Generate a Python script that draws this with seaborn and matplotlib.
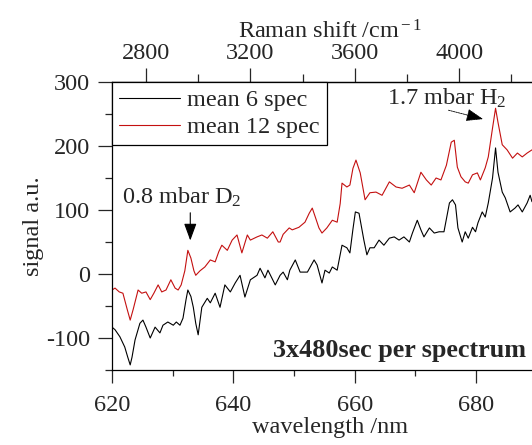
import matplotlib
matplotlib.use("Agg")
import matplotlib.pyplot as plt
import seaborn as sns
import numpy as np

# Spectra (wavelength in nm, signal in a.u.)
wl_red = [620.0, 620.5, 621.2, 621.8, 622.5, 623.0, 623.5, 624.3, 624.9, 625.6,
          626.3, 626.9, 627.6, 628.2, 628.9, 629.7, 630.4, 630.9, 631.4, 632.0,
          632.5, 633.0, 633.5, 633.8, 634.5, 635.3, 636.2, 637.0, 637.6, 638.1,
          639.0, 639.8, 640.6, 641.4, 642.3, 642.8, 643.9, 644.7, 645.6, 646.5,
          647.4, 647.7, 648.2, 649.2, 649.7, 650.8, 651.8, 652.5, 653.0, 653.5,
          654.1, 654.6, 655.4, 656.3, 657.1, 657.6, 657.9, 658.7, 659.2, 659.7,
          660.2, 660.9, 661.7, 662.5, 663.5, 664.5, 665.7, 666.8, 667.8, 669.0,
          669.8, 670.9, 671.8, 672.6, 673.4, 674.2, 675.1, 675.9, 676.4, 676.9,
          677.5, 678.2, 678.7, 679.4, 680.2, 680.7, 681.5, 682.0, 682.7, 683.2,
          683.6, 684.3, 685.1, 686.0, 686.8, 687.6, 688.4, 689.2, 690.5, 692.0]
sig_red = [-25, -22, -28, -30, -55, -72, -55, -25, -30, -28,
           -40, -30, -17, -28, -25, -9, -22, -25, -17, 5,
           37, 25, 5, -2, 5, 11, 22, 19, 35, 45,
           37, 53, 61, 33, 61, 53, 58, 61, 56, 66,
           50, 50, 62, 72, 69, 73, 81, 95, 103, 89,
           72, 64, 72, 84, 81, 110, 142, 136, 139, 165,
           178, 158, 116, 127, 128, 123, 144, 136, 134, 139,
           127, 159, 147, 139, 150, 147, 170, 206, 209, 167,
           152, 144, 142, 155, 158, 147, 166, 183, 228, 259,
           237, 202, 194, 181, 189, 183, 189, 194, 192, 195]

wl_black = [620.0, 620.5, 621.3, 622.1, 622.6, 623.0, 623.3, 623.8, 624.6, 625.1,
            625.6, 626.3, 627.1, 627.9, 628.4, 629.2, 630.1, 630.6, 631.2, 631.7,
            632.2, 632.5, 633.0, 633.4, 633.8, 634.2, 634.8, 635.7, 636.2, 637.0,
            637.8, 638.6, 639.5, 640.3, 641.1, 641.9, 642.8, 643.9, 644.4, 645.2,
            645.7, 646.9, 647.7, 648.2, 648.9, 649.3, 650.2, 651.0, 652.2, 653.3,
            653.8, 654.6, 655.1, 655.8, 656.3, 657.1, 657.9, 658.7, 659.2, 659.7,
            660.1, 660.7, 661.5, 662.0, 662.5, 663.2, 664.0, 664.8, 665.7, 666.5,
            667.3, 668.1, 669.0, 669.5, 670.3, 670.9, 671.4, 672.3, 673.1, 673.9,
            674.7, 675.6, 676.1, 676.6, 677.0, 677.7, 678.2, 678.7, 679.4, 679.9,
            680.3, 681.0, 681.5, 682.0, 682.7, 683.2, 683.6, 684.3, 684.8, 685.6,
            686.4, 686.9, 687.6, 688.4, 688.9, 689.2, 690.5, 692.0]
sig_black = [-83, -87, -98, -114, -130, -142, -130, -103, -77, -72,
             -83, -100, -83, -92, -80, -75, -80, -75, -80, -69,
             -40, -25, -35, -52, -77, -95, -52, -38, -45, -30,
             -52, -17, -28, -14, -2, -36, -9, -2, 9, -6,
             6, -17, -2, 3, -9, 6, 22, 3, 3, 22,
             14, -14, 6, 1.5, 11, 6, 45, 41, 33, 70,
             97, 95, 53, 30, 41, 41, 53, 45, 56, 58,
             53, 58, 50, 64, 84, 69, 58, 72, 64, 66,
             66, 111, 116, 108, 72, 50, 66, 56, 73, 66,
             80, 97, 89, 111, 150, 197, 159, 128, 119, 97,
             103, 108, 97, 111, 123, 113, 118, 120]

y_ticks = [-100, 0, 100, 200, 300]
x_ticks = [620, 640, 660, 680]
raman_ticks = [2800, 3200, 3600, 4000]

sns.set_style("ticks")
plt.rcParams['font.family'] = ['Liberation Serif', 'DejaVu Serif']
plt.rcParams['mathtext.fontset'] = 'custom'
plt.rcParams['mathtext.rm'] = 'Liberation Serif'
plt.rcParams['mathtext.it'] = 'Liberation Serif:italic'
plt.rcParams['axes.unicode_minus'] = False
plt.rcParams['font.size'] = 17.5
plt.rcParams['axes.linewidth'] = 0.9

fig = plt.figure(figsize=(5.32, 4.45), dpi=100)
ax = fig.add_axes([0.2105, 0.1685, 0.8214, 0.6472])

sns.lineplot(x=wl_black, y=sig_black, ax=ax, color='black', lw=0.8,
             estimator=None, label='mean 6 spec')
sns.lineplot(x=wl_red, y=sig_red, ax=ax, color='#c41010', lw=0.8,
             estimator=None, label='mean 12 spec')

ax.set_xlim(620, 692)
ax.set_ylim(-150, 300)
ax.set_xticks(x_ticks)
ax.set_xticks(np.arange(630, 692, 20), minor=True)
ax.set_yticks(y_ticks)
ax.set_yticks(np.arange(-150, 301, 100), minor=True)
ax.tick_params(axis='x', which='major', direction='out', length=9, width=0.9, pad=9)
ax.tick_params(axis='x', which='minor', direction='out', length=4, width=0.9)
ax.tick_params(axis='y', which='major', direction='out', length=10, width=0.9, pad=6)
ax.tick_params(axis='y', which='minor', direction='out', length=5, width=0.9)
ax.set_xlabel('wavelength /nm', labelpad=1)
ax.set_ylabel('signal a.u.', labelpad=1)
for s in ['top', 'bottom', 'left']:
    ax.spines[s].set_visible(True)
    ax.spines[s].set_color('black')


def to_raman(w):
    return 3600 + 23.25 * (np.asarray(w) - 660)


def to_wl(r):
    return 660 + (np.asarray(r) - 3600) / 23.25


sec = ax.secondary_xaxis('top', functions=(to_raman, to_wl))
sec.set_xticks(raman_ticks)
sec.set_xticks(np.arange(3000, 4400, 400), minor=True)
sec.tick_params(which='major', direction='out', length=10, width=0.9, pad=3)
sec.tick_params(which='minor', direction='out', length=6, width=0.9)
sec.set_xlabel('Raman shift /cm$^{\\rm -1}$', labelpad=3)

leg = ax.legend(loc='upper left', bbox_to_anchor=(0, 1), borderaxespad=0,
                frameon=True, fancybox=False, framealpha=1, edgecolor='black',
                handlelength=2.5, handletextpad=0.3, labelspacing=0.2,
                borderpad=0.3)
leg.get_frame().set_linewidth(0.9)

ax.text(621.6, 120, '0.8 mbar D$_{\\rm 2}$', ha='left', va='center')
ax.annotate('', xy=(632.9, 48), xytext=(632.9, 100),
            arrowprops=dict(arrowstyle='-|>,head_length=0.6,head_width=0.22',
                            color='black', lw=0.8))
ax.text(665.3, 275, '1.7 mbar H$_{\\rm 2}$', ha='left', va='center')
ax.annotate('', xy=(681.6, 241), xytext=(675.0, 257),
            arrowprops=dict(arrowstyle='-|>,head_length=0.6,head_width=0.22',
                            color='black', lw=0.6, linestyle=(0, (2, 1))))
ax.text(646.6, -119, '3x480sec per spectrum', ha='left', va='center',
        fontweight='bold', fontsize=18.8)

fig.savefig('out.png', dpi=100)
